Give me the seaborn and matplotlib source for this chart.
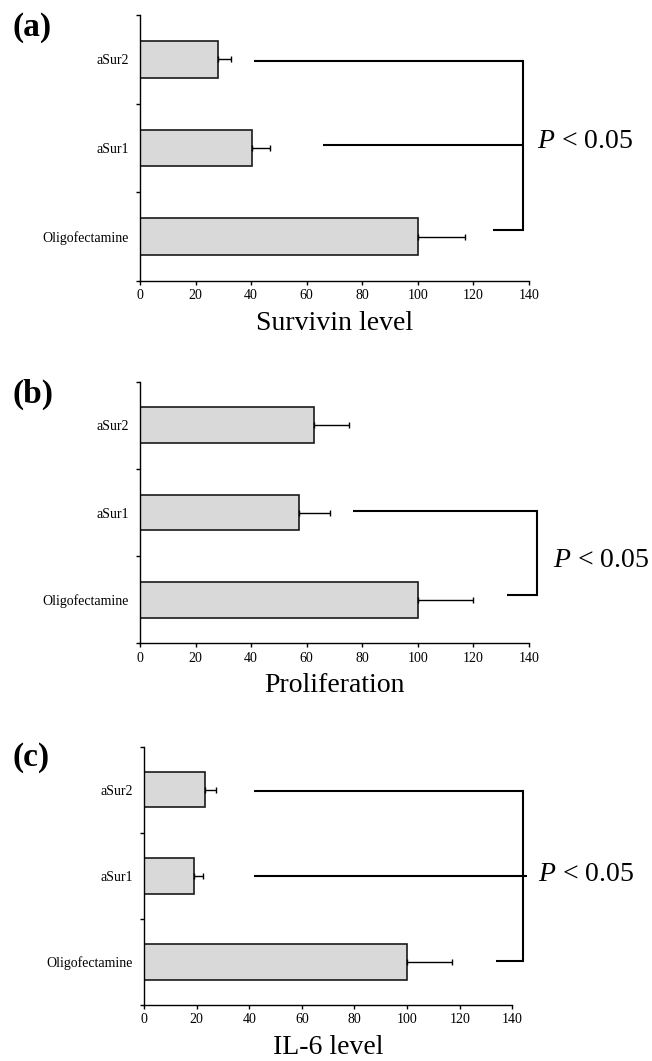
import numpy as np
import pandas as pd
import matplotlib
matplotlib.use("Agg")
import matplotlib.pyplot as plt
import seaborn as sns

# ---- data ----
groups = ["aSur2", "aSur1", "Oligofectamine"]
survivin_mean = [28.0, 40.2, 100.0]
survivin_err = [4.6, 6.6, 17.0]
prolif_mean = [62.7, 57.2, 100.0]
prolif_err = [12.6, 11.2, 20.0]
il6_mean = [23.3, 19.1, 100.0]
il6_err = [3.9, 3.4, 17.0]
xlabels = ["Survivin level", "Proliferation", "IL-6 level"]
panel_tags = ["(a)", "(b)", "(c)"]
x_ticks = [0, 20, 40, 60, 80, 100, 120, 140]
p_text = "$P$ < 0.05"

sns.set_theme(style="ticks")
plt.rcParams["font.family"] = ["Liberation Serif", "DejaVu Serif"]
plt.rcParams["mathtext.fontset"] = "custom"
plt.rcParams["mathtext.it"] = "Liberation Serif:italic"
plt.rcParams["mathtext.rm"] = "Liberation Serif"
plt.rcParams["text.color"] = "black"
plt.rcParams["axes.labelcolor"] = "black"
plt.rcParams["xtick.color"] = "black"
plt.rcParams["ytick.color"] = "black"

fig = plt.figure(figsize=(6.52, 10.61), dpi=100)

axes_rects = [
    [140 / 652, 1 - 281 / 1061, 389 / 652, 266 / 1061],
    [140 / 652, 1 - 643.3 / 1061, 389 / 652, 261.6 / 1061],
    [144 / 652, 1 - 1005 / 1061, 368.3 / 652, 258.3 / 1061],
]
tag_y = [12, 379, 742]

# bracket annotations: (category position, x start, x end), vertical x, text (x, y)
brackets = [
    dict(stubs=[(0.02, 41, 137.7), (0.97, 66, 137.7), (1.92, 127, 137.7)],
         vx=137.7, vy=(0.02, 1.92), tx=143.0, ty=0.93),
    dict(stubs=[(0.98, 76.5, 142.8), (1.95, 132.2, 142.8)],
         vx=142.8, vy=(0.98, 1.95), tx=148.6, ty=1.55),
    dict(stubs=[(0.02, 42, 143.9), (1.0, 42, 145.4), (1.99, 133.8, 143.9)],
         vx=143.9, vy=(0.02, 1.99), tx=149.9, ty=0.98),
]

means = [survivin_mean, prolif_mean, il6_mean]
errs = [survivin_err, prolif_err, il6_err]

for i in range(3):
    ax = fig.add_axes(axes_rects[i])
    df = pd.DataFrame({"group": groups, "value": means[i]})
    sns.barplot(data=df, x="value", y="group", orient="h", color="#d9d9d9",
                edgecolor="#1a1a1a", linewidth=1.2, width=0.41,
                errorbar=None, saturation=1, ax=ax)
    for p in ax.patches:
        p.set_facecolor("#d9d9d9")
    ypos = np.arange(len(groups))
    ax.errorbar(means[i], ypos, xerr=[np.zeros(len(groups)), errs[i]],
                fmt="none", ecolor="black", elinewidth=1.0, capsize=2.2,
                capthick=1.0)
    ax.set_xlim(0, 140)
    ax.set_ylim(2.5, -0.5)
    ax.set_xticks(x_ticks)
    ax.set_xticklabels([str(t) for t in x_ticks], fontsize=10)
    ax.set_yticks(ypos)
    ax.set_yticklabels(groups, fontsize=10)
    ax.set_yticks([-0.5, 0.5, 1.5, 2.5], minor=True)
    ax.tick_params(axis="y", which="major", length=0, pad=8)
    ax.tick_params(axis="y", which="minor", length=3, width=1, color="black")
    ax.tick_params(axis="x", length=3, width=1, color="black", pad=3)
    ax.set_ylabel("")
    ax.set_xlabel(xlabels[i], fontsize=20, labelpad=6)
    sns.despine(ax=ax)
    for s in ["left", "bottom"]:
        ax.spines[s].set_color("black")
        ax.spines[s].set_linewidth(1.0)

    b = brackets[i]
    for (yy, x0, x1) in b["stubs"]:
        ax.plot([x0, x1], [yy, yy], color="black", lw=1.5, clip_on=False,
                solid_capstyle="butt")
    ax.plot([b["vx"], b["vx"]], [b["vy"][0], b["vy"][1]], color="black",
            lw=1.5, clip_on=False, solid_capstyle="projecting")
    ax.text(b["tx"], b["ty"], p_text, fontsize=20, ha="left", va="center",
            clip_on=False, color="black")

    fig.text(13 / 652, 1 - tag_y[i] / 1061, panel_tags[i], fontsize=24,
             fontweight="bold", ha="left", va="top", color="black")

fig.savefig("out.png", dpi=100)
